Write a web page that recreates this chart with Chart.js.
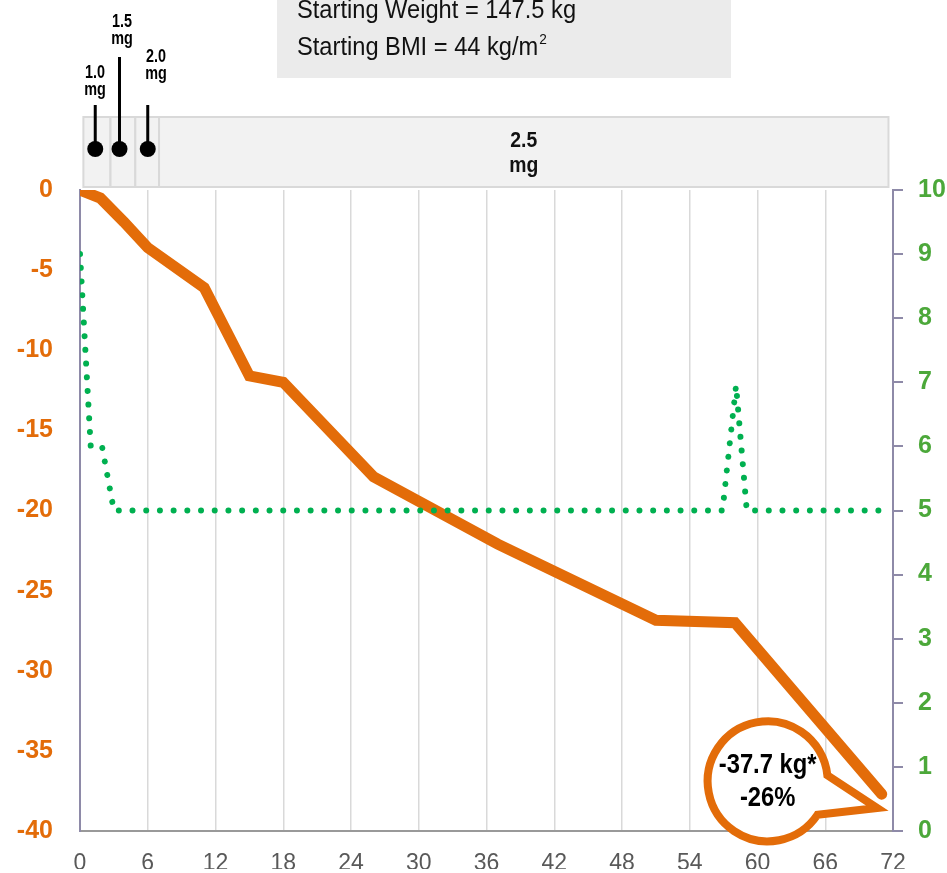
<!DOCTYPE html>
<html>
<head>
<meta charset="utf-8">
<script src="https://cdn.jsdelivr.net/npm/chart.js@4"></script>
<style>
  html, body { margin: 0; padding: 0; background: #fff; }
  #holder { width: 947px; height: 873px; position: relative; }
</style>
</head>
<body>
<div id="holder"><canvas id="weightChart"></canvas></div>
<script>
  // weeks on treatment and change in body weight (kg)
  var weightWeeks = [0, 1.8, 3.9, 6, 11, 15, 18, 26, 37, 51, 58, 71];
  var weightChange = [0, -0.5, -2.0, -3.6, -6.1, -11.6, -12.0, -17.9, -22.1, -26.85, -27.0, -37.7];

  // second series on the right axis (0-10)
  var rightWeeks = [0, 0.95, 1.95, 3.0, 56.9, 58.1, 59.05, 71.3];
  var rightValues = [9, 6, 6, 5, 5, 6.95, 5, 5];

  // dose escalation (x positions in weeks)
  var doseLabels = ['1.0', '1.5', '2.0', '2.5'];
  var doseEdges = [0.3, 2.7, 4.9, 7.0, 71.6];
  var dosePinWeeks = [1.35, 3.5, 6.0];

  var infoLines = ['Starting Weight = 147.5 kg', 'Starting BMI = 44 kg/m'];
  var calloutLines = ['-37.7 kg*', '-26%'];

  var ORANGE = '#E36C09';
  var GREEN = '#00B050';
  var GREEN_TXT = '#4CA83A';
  var AXIS = '#8e8aa8';
  var FONT = "'Liberation Sans', Arial, sans-serif";

  function pts(xs, ys) {
    return xs.map(function (x, i) { return { x: x, y: ys[i] }; });
  }

  // text squeezed horizontally (the original uses a narrow face)
  function narrowText(ctx, txt, x, y, sx) {
    ctx.save();
    ctx.translate(x, y);
    ctx.scale(sx, 1);
    ctx.fillText(txt, 0, 0);
    ctx.restore();
  }

  var extras = {
    id: 'extras',
    beforeDraw: function (chart) {
      var ctx = chart.ctx, xs = chart.scales.x;
      ctx.save();
      // info box
      ctx.fillStyle = '#ebebeb';
      ctx.fillRect(277, 0, 454, 78);
      ctx.fillStyle = '#111';
      ctx.font = '26px ' + FONT;
      ctx.textAlign = 'left';
      ctx.textBaseline = 'alphabetic';
      narrowText(ctx, infoLines[0], 297, 18, 0.91);
      narrowText(ctx, infoLines[1], 297, 55, 0.91);
      var w = ctx.measureText(infoLines[1]).width * 0.91;
      ctx.font = '15px ' + FONT;
      narrowText(ctx, '2', 297 + w + 1, 44, 0.91);

      // dose band
      ctx.lineWidth = 2;
      ctx.strokeStyle = '#d9d9d9';
      for (var i = 0; i < doseEdges.length - 1; i++) {
        var a = xs.getPixelForValue(doseEdges[i]);
        var b = xs.getPixelForValue(doseEdges[i + 1]);
        ctx.fillStyle = '#f2f2f2';
        ctx.fillRect(a, 117, b - a, 70);
        ctx.strokeRect(a, 117, b - a, 70);
      }
      var lastA = xs.getPixelForValue(doseEdges[3]);
      var lastB = xs.getPixelForValue(doseEdges[4]);
      ctx.fillStyle = '#111';
      ctx.font = 'bold 22px ' + FONT;
      ctx.textAlign = 'center';
      narrowText(ctx, doseLabels[3], (lastA + lastB) / 2, 147, 0.88);
      narrowText(ctx, 'mg', (lastA + lastB) / 2, 172, 0.88);

      // pins
      var stemTop = [105, 57, 105];
      var labelBase = [78, 27, 62];
      ctx.strokeStyle = '#000';
      ctx.fillStyle = '#000';
      ctx.lineWidth = 3;
      for (var j = 0; j < dosePinWeeks.length; j++) {
        var px = xs.getPixelForValue(dosePinWeeks[j]);
        ctx.beginPath();
        ctx.moveTo(px, stemTop[j]);
        ctx.lineTo(px, 149);
        ctx.stroke();
        ctx.beginPath();
        ctx.arc(px, 149, 8, 0, Math.PI * 2);
        ctx.fill();
      }
      var labelX = [95, 122, 156];
      ctx.font = 'bold 18px ' + FONT;
      for (var k = 0; k < 3; k++) {
        narrowText(ctx, doseLabels[k], labelX[k], labelBase[k], 0.8);
        narrowText(ctx, 'mg', labelX[k], labelBase[k] + 17, 0.8);
      }
      ctx.restore();
    },
    afterDatasetsDraw: function (chart) {
      var ctx = chart.ctx, xs = chart.scales.x, ys = chart.scales.y;
      var cx = xs.getPixelForValue(60.9), cy = ys.getPixelForValue(-36.9);
      var tx = xs.getPixelForValue(70.6), ty = ys.getPixelForValue(-38.57);
      var r = 60;
      var aLow = 34 * Math.PI / 180, aUp = -5.8 * Math.PI / 180 + Math.PI * 2;
      ctx.save();
      ctx.beginPath();
      ctx.arc(cx, cy, r, aLow, aUp);
      ctx.lineTo(tx, ty);
      ctx.closePath();
      ctx.fillStyle = '#fff';
      ctx.fill();
      ctx.lineWidth = 8;
      ctx.lineJoin = 'miter';
      ctx.strokeStyle = ORANGE;
      ctx.stroke();
      ctx.fillStyle = '#000';
      ctx.font = 'bold 28px ' + FONT;
      ctx.textAlign = 'center';
      ctx.textBaseline = 'alphabetic';
      narrowText(ctx, calloutLines[0], cx, cy - 8, 0.85);
      narrowText(ctx, calloutLines[1], cx, cy + 25, 0.85);
      ctx.restore();
    }
  };

  new Chart(document.getElementById('weightChart'), {
    type: 'line',
    data: {
      datasets: [
        {
          data: pts(rightWeeks, rightValues),
          yAxisID: 'y1',
          order: 0,
          borderColor: GREEN,
          borderWidth: 6,
          borderDash: [0.001, 13.7],
          borderCapStyle: 'round',
          pointRadius: 0,
          tension: 0
        },
        {
          data: pts(weightWeeks, weightChange),
          yAxisID: 'y',
          order: 1,
          borderColor: ORANGE,
          borderWidth: 11,
          borderCapStyle: 'round',
          borderJoinStyle: 'miter',
          pointRadius: 0,
          tension: 0
        }
      ]
    },
    options: {
      responsive: true,
      maintainAspectRatio: false,
      animation: false,
      layout: { padding: { top: 190, left: 0, right: 0, bottom: 0 } },
      plugins: { legend: { display: false }, tooltip: { enabled: false } },
      scales: {
        x: {
          type: 'linear',
          min: 0, max: 72,
          afterFit: function (s) { s.height = 38; },
          grid: { color: '#d9d9d9', lineWidth: 1.5, drawTicks: false },
          border: { color: '#999', width: 2 },
          ticks: { stepSize: 6, padding: 19, color: '#595959', font: { family: FONT, size: 23 } }
        },
        y: {
          position: 'left',
          min: -40, max: 0,
          afterFit: function (s) { s.width = 80; },
          grid: { display: false, drawTicks: false },
          border: { display: true, color: AXIS, width: 2 },
          ticks: { stepSize: 5, padding: 27, color: ORANGE, font: { family: FONT, size: 25, weight: 'bold' } }
        },
        y1: {
          position: 'right',
          min: 0, max: 10,
          afterFit: function (s) { s.width = 54; },
          grid: { drawOnChartArea: false, drawTicks: true, tickLength: 10, color: AXIS, lineWidth: 2 },
          border: { display: true, color: AXIS, width: 2 },
          ticks: { stepSize: 1, padding: 15, color: GREEN_TXT, font: { family: FONT, size: 25, weight: 'bold' } }
        }
      }
    },
    plugins: [extras]
  });
</script>
</body>
</html>
